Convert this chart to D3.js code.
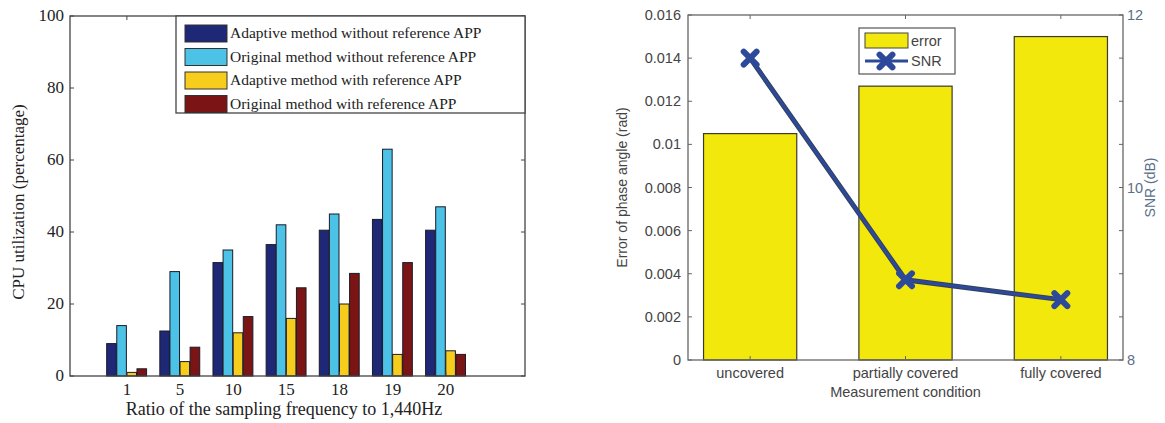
<!DOCTYPE html>
<html>
<head>
<meta charset="utf-8">
<script src="https://cdn.jsdelivr.net/npm/d3@7"></script>
<style>
  body { margin: 0; background: #fff; }
  svg { display: block; }
  .serif { font-family: "Liberation Serif", "DejaVu Serif", serif; fill: #222; }
  .sans { font-family: "Liberation Sans", Arial, sans-serif; fill: #444; }
</style>
</head>
<body>
<div id="chart"></div>
<script>
// left chart: CPU utilization
const ratios = ['1', '5', '10', '15', '18', '19', '20'];
const seriesNames = [
  'Adaptive method without reference APP',
  'Original method without reference APP',
  'Adaptive method with reference APP',
  'Original method with reference APP'
];
const adaptiveNoRef = [9, 12.5, 31.5, 36.5, 40.5, 43.5, 40.5];
const originalNoRef = [14, 29, 35, 42, 45, 63, 47];
const adaptiveRef = [1, 4, 12, 16, 20, 6, 7];
const originalRef = [2, 8, 16.5, 24.5, 28.5, 31.5, 6];
const cpuTicks = [0, 20, 40, 60, 80, 100];
const barColors = ['#1f2777', '#4cc2e6', '#f6cd1c', '#7b1414'];

// right chart: phase error / SNR
const conditions = ['uncovered', 'partially covered', 'fully covered'];
const phaseError = [0.0105, 0.0127, 0.015];
const snr = [11.5, 8.93, 8.7];
const errorTicks = [0, 0.002, 0.004, 0.006, 0.008, 0.01, 0.012, 0.014, 0.016];
const snrTicks = [8, 8.5, 9, 9.5, 10, 10.5, 11, 11.5, 12];
const snrLabels = [8, 10, 12];

const svg = d3.select('#chart').append('svg').attr('width', 1165).attr('height', 423);

// ---------- left chart ----------
{
  const L = 70, R = 525, T = 16, B = 376;
  const series = [adaptiveNoRef, originalNoRef, adaptiveRef, originalRef];
  const x = d3.scaleLinear().domain([-0.07, 8.49]).range([L, R]);
  const y = d3.scaleLinear().domain([0, 100]).range([B, T]);
  const g = svg.append('g');
  const groupW = 0.76;
  const bw = groupW / 4;

  series.forEach((vals, s) => {
    g.selectAll(null).data(vals).join('rect')
      .attr('x', (d, i) => x(i + 1 - groupW / 2 + s * bw))
      .attr('y', d => y(d))
      .attr('width', x(bw) - x(0) - 0.5)
      .attr('height', d => y(0) - y(d))
      .attr('fill', barColors[s])
      .attr('stroke', '#1a1a2a')
      .attr('stroke-width', 1);
  });

  // frame
  g.append('rect').attr('x', L).attr('y', T).attr('width', R - L).attr('height', B - T)
    .attr('fill', 'none').attr('stroke', '#444').attr('stroke-width', 1.3);

  // y ticks (inward, both sides)
  cpuTicks.forEach(v => {
    g.append('line').attr('x1', L).attr('x2', L + 4).attr('y1', y(v)).attr('y2', y(v)).attr('stroke', '#444');
    g.append('line').attr('x1', R).attr('x2', R - 4).attr('y1', y(v)).attr('y2', y(v)).attr('stroke', '#444');
    g.append('text').attr('class', 'serif').attr('x', L - 6).attr('y', y(v) + 5)
      .attr('text-anchor', 'end').attr('font-size', 17).text(v);
  });
  // x ticks
  ratios.forEach((r, i) => {
    g.append('line').attr('x1', x(i + 1)).attr('x2', x(i + 1)).attr('y1', B).attr('y2', B - 4).attr('stroke', '#444');
    g.append('line').attr('x1', x(i + 1)).attr('x2', x(i + 1)).attr('y1', T).attr('y2', T + 4).attr('stroke', '#444');
    g.append('text').attr('class', 'serif').attr('x', x(i + 1)).attr('y', B + 19)
      .attr('text-anchor', 'middle').attr('font-size', 17).text(r);
  });

  g.append('text').attr('class', 'serif').attr('x', 284).attr('y', 415)
    .attr('text-anchor', 'middle').attr('font-size', 18).text('Ratio of the sampling frequency to 1,440Hz');
  g.append('text').attr('class', 'serif')
    .attr('transform', `translate(24,${(T + B) / 2 + 6}) rotate(-90)`)
    .attr('text-anchor', 'middle').attr('font-size', 17).text('CPU utilization (percentage)');

  // legend
  const lg = g.append('g');
  lg.append('rect').attr('x', 176).attr('y', T).attr('width', R - 176).attr('height', 97)
    .attr('fill', '#fff').attr('stroke', '#444').attr('stroke-width', 1.3);
  seriesNames.forEach((name, i) => {
    const cy = 33 + i * 23.5;
    lg.append('rect').attr('x', 185).attr('y', cy - 8).attr('width', 42).attr('height', 17)
      .attr('fill', barColors[i]).attr('stroke', '#333');
    lg.append('text').attr('class', 'serif').attr('x', 230).attr('y', cy + 5)
      .attr('font-size', 15.5).text(name);
  });
}

// ---------- right chart ----------
{
  const L = 688, R = 1123, T = 15, B = 360;
  const x = d3.scaleLinear().domain([0.6, 3.4]).range([L, R]);
  const y = d3.scaleLinear().domain([0, 0.016]).range([B, T]);
  const y2 = d3.scaleLinear().domain([8, 12]).range([B, T]);
  const g = svg.append('g');
  const bw = 0.6;

  g.selectAll(null).data(phaseError).join('rect')
    .attr('x', (d, i) => x(i + 1 - bw / 2))
    .attr('y', d => y(d))
    .attr('width', x(bw) - x(0))
    .attr('height', d => y(0) - y(d))
    .attr('fill', '#f3e80c')
    .attr('stroke', '#3a3a2a')
    .attr('stroke-width', 1.2);

  g.append('rect').attr('x', L).attr('y', T).attr('width', R - L).attr('height', B - T)
    .attr('fill', 'none').attr('stroke', '#666').attr('stroke-width', 1.3);

  errorTicks.forEach(v => {
    g.append('line').attr('x1', L).attr('x2', L + 4).attr('y1', y(v)).attr('y2', y(v)).attr('stroke', '#666');
    g.append('text').attr('class', 'sans').attr('x', L - 7).attr('y', y(v) + 5)
      .attr('text-anchor', 'end').attr('font-size', 14.5).text(v === 0 ? '0' : d3.format('~g')(v));
  });
  snrTicks.forEach(v => {
    g.append('line').attr('x1', R).attr('x2', R - 4).attr('y1', y2(v)).attr('y2', y2(v)).attr('stroke', '#666');
  });
  snrLabels.forEach(v => {
    g.append('text').attr('class', 'sans').attr('x', R + 4).attr('y', y2(v) + 5)
      .attr('font-size', 14.5).style('fill', '#5a6f88').text(v);
  });
  conditions.forEach((c, i) => {
    g.append('line').attr('x1', x(i + 1)).attr('x2', x(i + 1)).attr('y1', B).attr('y2', B - 4).attr('stroke', '#666');
    g.append('line').attr('x1', x(i + 1)).attr('x2', x(i + 1)).attr('y1', T).attr('y2', T + 4).attr('stroke', '#666');
    g.append('text').attr('class', 'sans').attr('x', x(i + 1)).attr('y', B + 18)
      .attr('text-anchor', 'middle').attr('font-size', 14.5).text(c);
  });

  g.append('text').attr('class', 'sans').attr('x', x(2)).attr('y', 397)
    .attr('text-anchor', 'middle').attr('font-size', 14.5).text('Measurement condition');
  g.append('text').attr('class', 'sans')
    .attr('transform', `translate(627,${(T + B) / 2}) rotate(-90)`)
    .attr('text-anchor', 'middle').attr('font-size', 14).text('Error of phase angle (rad)');
  g.append('text').attr('class', 'sans')
    .attr('transform', `translate(1155,${(T + B) / 2}) rotate(-90)`)
    .attr('text-anchor', 'middle').attr('font-size', 14).style('fill', '#5a6f88').text('SNR (dB)');

  const lineColor = '#2d4a9a';
  const line = d3.line().x((d, i) => x(i + 1)).y(d => y2(d));
  g.append('path').datum(snr).attr('d', line)
    .attr('fill', 'none').attr('stroke', '#33405a').attr('stroke-width', 5);
  g.append('path').datum(snr).attr('d', line)
    .attr('fill', 'none').attr('stroke', lineColor).attr('stroke-width', 3);
  const sym = d3.symbol().type(d3.symbolX).size(110);
  g.selectAll(null).data(snr).join('path')
    .attr('transform', (d, i) => `translate(${x(i + 1)},${y2(d)})`)
    .attr('d', sym).attr('fill', 'none').attr('stroke', lineColor).attr('stroke-width', 6)
    .attr('stroke-linecap', 'round');

  // legend
  const lg = g.append('g');
  lg.append('rect').attr('x', 859).attr('y', 28).attr('width', 96).attr('height', 46)
    .attr('fill', '#fff').attr('stroke', '#555').attr('stroke-width', 1.2);
  lg.append('rect').attr('x', 865).attr('y', 33).attr('width', 43).attr('height', 15)
    .attr('fill', '#f3e80c').attr('stroke', '#444');
  lg.append('text').attr('class', 'sans').attr('x', 911).attr('y', 46).attr('font-size', 14.5).text('error');
  lg.append('line').attr('x1', 865).attr('x2', 908).attr('y1', 61).attr('y2', 61)
    .attr('stroke', lineColor).attr('stroke-width', 3);
  lg.append('path').attr('transform', 'translate(886,61)').attr('d', sym)
    .attr('fill', 'none').attr('stroke', lineColor).attr('stroke-width', 6).attr('stroke-linecap', 'round');
  lg.append('text').attr('class', 'sans').attr('x', 911).attr('y', 66).attr('font-size', 14.5).text('SNR');
}
</script>
</body>
</html>
